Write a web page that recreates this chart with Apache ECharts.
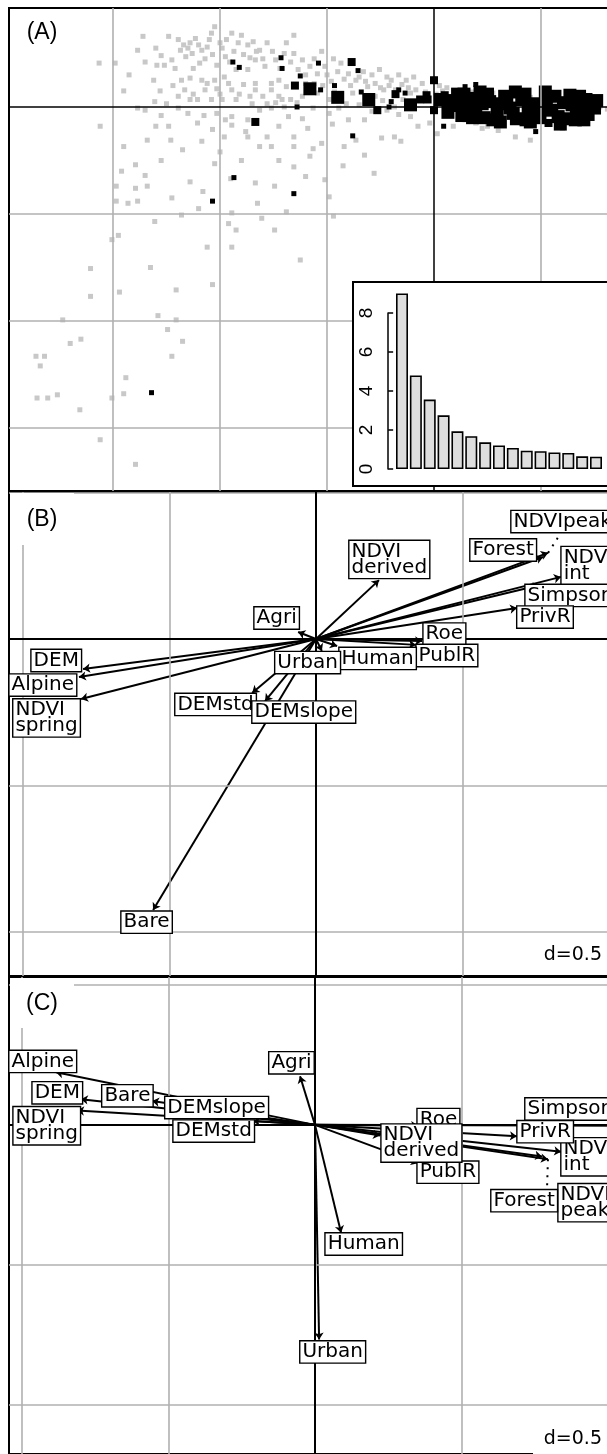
<!DOCTYPE html>
<html><head><meta charset="utf-8">
<script src="https://cdn.jsdelivr.net/npm/echarts@6/dist/echarts.min.js"></script>
<style>
html,body{margin:0;padding:0;background:#fff;overflow:hidden;width:607px;height:1454px;}
body{position:relative;}
.p{position:absolute;left:0;width:700px;}
</style></head><body>
<div id="pa" class="p" style="top:0;height:492px"></div>
<div id="inset" class="p" style="left:352px;top:281px;width:340px;height:206px"></div>
<div id="pb" class="p" style="top:484px;height:500px"></div>
<div id="pc" class="p" style="top:969px;height:485px"></div>
<script>
// ---------- DATA ----------
// Inset: eigenvalues
const eigenvalues = [9.0, 4.8, 3.56, 2.75, 1.93, 1.68, 1.37, 1.21, 1.08, 0.94, 0.91, 0.85, 0.82, 0.65, 0.63];
const eigenTicks = [0, 2, 4, 6, 8];

// Panel A: site scores (grey = all sites)
const sitesAll = [
[-3.13,0.41],[-2.98,0.41],[-2.72,0.66],[-2.77,0.53],[-2.70,0.42],[-2.59,0.39],[-2.52,0.39],[-2.48,0.66],[-2.39,0.63],[-2.34,0.58],
[-2.28,0.60],[-2.23,0.64],[-2.37,0.53],[-2.32,0.47],[-2.25,0.36],[-2.19,0.41],[-2.08,0.69],[-2.05,0.75],[-2.10,0.63],[-2.17,0.53],
[-2.14,0.45],[-2.07,0.49],[-2.03,0.39],[-1.98,0.55],[-1.94,0.63],[-1.89,0.69],[-1.80,0.67],[-1.83,0.60],[-1.74,0.58],[-1.69,0.61],
[-1.63,0.53],[-1.56,0.60],[-1.51,0.52],[-1.67,0.44],[-1.74,0.35],[-1.85,0.35],[-1.96,0.28],[-2.05,0.25],[-2.17,0.25],[-2.28,0.27],
[-2.36,0.25],[-2.14,0.16],[-2.03,0.17],[-1.89,0.16],[-1.78,0.21],[-1.67,0.22],[-1.52,0.16],[-1.45,0.10],[-1.56,0.03],[-1.70,0.03],
[-1.85,0.07],[-1.98,0.07],[-2.08,0.07],[-2.21,0.07],[-2.28,0.07],[-2.39,0.10],[-2.50,0.03],[-2.61,0.05],[-2.77,-0.01],[-2.70,-0.03],
[-2.39,-0.01],[-2.03,-0.06],[-1.89,-0.09],[-1.74,-0.12],[-1.63,-0.03],[-1.52,-0.01],[-1.42,0.07],[-1.36,-0.09],[-1.23,-0.11],[-1.13,-0.01],
[-0.98,-0.06],[-0.89,-0.01],[-1.31,0.67],[-1.38,0.60],[-1.31,0.50],[-1.23,0.44],[-1.16,0.38],[-1.09,0.31],[-1.02,0.38],[-1.05,0.52],
[-0.94,0.45],[-0.87,0.41],[-0.80,0.31],[-0.73,0.25],[-0.66,0.33],[-0.58,0.30],[-0.51,0.35],[-0.44,0.28],[-0.40,0.25],[-0.33,0.30],
[-0.26,0.25],[-0.19,0.28],[-0.11,0.22],[-0.22,0.13],[-0.29,0.07],[-0.37,0.00],[-0.44,-0.03],[-0.33,-0.07],[-0.22,-0.09],[-0.15,-0.18],
[-0.04,-0.15],[0.03,-0.25],[0.18,-0.18],[0.29,-0.12],[0.39,-0.15],[0.50,-0.18],[0.76,-0.28],[0.90,-0.31],[1.55,0.00],[-0.47,0.16],
[-0.62,0.19],[-0.76,0.13],[-0.87,0.07],[-0.98,0.07],[-1.09,0.13],[-1.16,0.16],[-1.23,0.10],[-1.34,0.07],[-1.45,0.25],[-1.38,0.19],
[-1.52,0.22],[-1.67,0.16],[-3.12,-0.18],[-2.48,-0.18],[-2.21,-0.15],[-2.07,-0.21],[-1.89,-0.17],[-1.76,-0.23],[-1.56,-0.28],[-1.52,-0.37],
[-1.63,-0.37],[-1.74,-0.28],[-1.96,-0.28],[-2.17,-0.32],[-2.46,-0.31],[-2.68,-0.31],[-2.90,-0.37],[-2.79,-0.54],[-2.70,-0.64],[-2.92,-0.60],
[-2.97,-0.74],[-2.79,-0.76],[-2.68,-0.74],[-2.28,-0.70],[-2.16,-0.79],[-2.05,-0.53],[-1.90,-0.67],[-1.67,-0.71],[-1.49,-0.74],[-1.31,-0.56],
[-1.16,-0.46],[-1.05,-0.34],[-1.31,-0.28],[-1.31,-0.37],[-1.13,-0.39],[-1.02,-0.68],[-0.98,-0.84],[-0.94,-1.02],[-0.84,-0.37],[-0.73,-0.31],
[-0.56,-0.62],[-0.49,-0.29],[-0.37,-0.28],[-0.31,-0.32],[-2.97,-0.88],[-2.86,-0.90],[-2.77,-0.88],[-2.61,-1.07],[-2.36,-1.01],[-1.92,-1.09],
[-1.85,-1.15],[-1.49,-1.15],[-1.89,-0.99],[-1.89,-1.31],[-3.01,-1.24],[-2.95,-1.20],
[-3.21,-1.51],[-3.21,-1.77],[-2.94,-1.73],[-2.65,-1.50],[-2.58,-1.95],[-2.49,-2.08],[-2.35,-2.19],[-2.41,-1.99],[-3.72,-2.33],[-3.64,-2.33],
[-3.68,-2.42],[-3.40,-2.21],[-3.30,-2.17],[-3.52,-2.69],[-3.61,-2.72],[-3.71,-2.72],[-3.31,-2.83],[-3.01,-2.72],[-2.90,-2.68],[-3.12,-3.11],
[-2.79,-3.34],[-2.45,-2.33],[-2.88,-2.53],[-3.47,-1.99],[-2.12,-1.31],[-1.61,-1.04],[-1.38,-0.98],[-1.25,-1.43],[-2.41,-1.71],[-2.07,-1.66],
[0.20,0.12],[0.35,0.14],[0.55,0.13],[0.70,0.11],[0.90,0.09],[1.10,0.06],[1.30,0.05],[0.60,-0.22],[0.45,-0.20],[1.20,-0.20],
[0.05,0.20],[0.12,0.18],[1.62,-0.02],
[-2.60,0.55],[-2.55,0.48],[-2.45,0.44],[-2.42,0.36],[-2.30,0.55],[-2.26,0.50],[-2.20,0.58],[-2.12,0.56],[-2.00,0.60],[-1.95,0.47],
[-1.91,0.42],[-1.87,0.52],[-1.78,0.49],[-1.72,0.46],[-1.66,0.52],[-1.60,0.45],[-1.58,0.38],[-1.48,0.44],[-1.44,0.36],[-1.40,0.50],
[-1.34,0.42],[-1.27,0.35],[-1.20,0.30],[-1.12,0.45],[-1.00,0.30],[-0.96,0.24],[-0.90,0.33],[-0.84,0.26],[-0.78,0.20],[-0.70,0.28],
[-0.64,0.24],[-0.55,0.22],[-0.50,0.18],[-0.42,0.20],[-0.36,0.16],[-0.30,0.21],[-0.24,0.18],[-0.17,0.16],[-0.08,0.14],[0.02,0.12],
[0.08,0.15],[-2.44,0.20],[-2.33,0.16],[-2.25,0.12],[-2.12,0.22],[-2.00,0.12],[-1.92,0.22],[-1.82,0.12],[-1.72,0.10],[-1.60,0.10],
[-1.48,0.04],[-1.40,0.00],[-1.28,0.04],[-1.20,0.22],[-1.12,0.22],[-1.04,0.20],[-0.93,0.14],[-0.82,0.03],[-0.70,0.02],[-0.58,-0.04],
[-0.55,0.10],[-0.48,0.06],[-1.95,-0.12],[-2.15,-0.08],[-2.30,-0.06],[-2.55,-0.08],[-1.45,-0.18],[-1.18,-0.20],[-0.95,-0.16],[-0.80,-0.12],
[-0.65,-0.12],[-2.62,0.25],[-2.56,0.15],[-2.85,0.30],[-2.90,0.15],[-2.60,-0.18],[-2.35,-0.40],[-2.00,-0.42],[-1.80,-0.50],[-2.55,-0.50],
[-1.45,-0.50],[-0.85,-0.55],[-0.65,-0.45],[-1.20,-0.65],[-2.45,-0.85],[-2.20,-0.95],[-1.65,-0.90]
];
// Panel A: presence sites [x, y, weight class 1..3]
const sitesPresence = [
[-1.88,0.42,1],[-1.82,0.37,1],[-1.43,0.46,1],[-1.42,0.36,1],[-1.25,0.29,1],[-1.30,0.20,2],[-1.16,0.17,3],[-1.08,0.41,1],[-1.06,0.16,1],
[-0.93,0.20,1],[-0.90,0.09,3],[-0.77,0.42,2],[-0.71,0.34,1],[-0.68,0.14,1],[-0.61,0.07,3],[-0.53,-0.03,2],[-0.42,0.00,1],[-0.40,0.05,1],
[-0.36,0.12,2],[-0.33,0.16,1],[-0.27,0.13,1],[-0.22,0.02,3],[-0.13,0.07,2],[-0.07,0.11,2],[0.00,0.25,2],[0.00,-0.03,2],[-1.28,0.00,1],
[-1.67,-0.14,2],[-0.76,-0.27,1],[0.09,-0.18,1],[0.29,0.19,1],[0.39,0.21,1],[0.95,-0.23,1],[1.07,-0.15,2],[-1.87,-0.66,1],[-1.31,-0.81,1],
[-2.07,-0.88,1],[-2.64,-2.67,1],[-0.06,0.07,2],[0.10,0.11,2],[0.17,-0.01,2],
[0.06,0.07,3],[0.13,-0.05,3],[0.21,0.03,3],[0.26,-0.08,3],[0.34,0.08,3],[0.39,-0.03,3],[0.47,-0.10,3],[0.52,0.05,3],[0.59,-0.05,3],
[0.66,0.10,3],[0.71,-0.01,3],[0.77,-0.11,3],[0.82,0.07,3],[0.88,-0.05,3],[0.93,0.03,3],[0.99,-0.10,3],[1.05,0.08,3],[1.10,-0.03,3],
[1.16,-0.09,3],[1.21,0.04,3],[1.27,0.11,3],[1.33,-0.05,3],[1.38,0.03,3],[1.44,-0.07,3],[1.50,-0.01,3],[0.22,0.12,3],[0.62,-0.14,3],
[0.90,-0.14,3],[1.18,-0.16,3],[0.43,0.14,3],[0.76,0.14,3],[1.04,0.14,3],[1.32,-0.12,3],[0.32,0.01,3],[0.64,0.03,3],[0.96,-0.03,3],
[1.29,0.02,3],[1.42,0.07,3],
[0.15,0.06,3],[0.28,0.12,3],[0.45,0.03,3],[0.55,-0.12,3],[0.68,0.04,3],[0.74,-0.06,3],[0.85,0.12,3],[0.86,-0.12,3],[1.01,0.01,3],
[1.13,0.10,3],[1.24,-0.11,3],[1.36,0.10,3],[1.46,0.04,3],[1.52,0.06,3],[1.40,-0.12,3],[0.50,0.12,3],[0.36,-0.10,3]
];
const gridA_x = [-3, -2, -1, 1];
const gridA_y = [-3, -2, -1];

// Panels B and C: variable arrows (grid d = 0.5)
const gridBC = [-1, -0.5, 0.5, 1];
const namesB = ['NDVIpeak','Forest','NDVI\nint','Simpson','PrivR','Roe','PublR','Human','Urban','Agri','DEMstd','DEMslope','NDVI\nderived','DEM','Alpine','NDVI\nspring','Bare'];
const tipsB = [[0.792,0.294],[0.775,0.280],[0.836,0.212],[0.765,0.184],[0.686,0.106],[0.362,-0.007],[0.341,-0.020],[0.072,-0.024],[0.020,-0.041],
[-0.061,0.024],[-0.218,-0.184],[-0.174,-0.212],[0.215,0.201],[-0.795,-0.102],[-0.809,-0.130],[-0.802,-0.205],[-0.556,-0.925]];
const labelsB = [[0.669,0.399],[0.529,0.302],[0.840,0.249],[0.717,0.147],[0.689,0.073],[0.369,0.015],[0.345,-0.058],[0.082,-0.068],[-0.137,-0.082],
[-0.208,0.070],[-0.478,-0.225],[-0.215,-0.251],[0.116,0.270],[-0.969,-0.075],[-1.044,-0.159],[-1.031,-0.271],[-0.662,-0.968]];
const leaderB = [[0.792,0.294],[0.825,0.345]];

const namesC = ['NDVI\npeak','Forest','NDVI\nint','Simpson','PrivR','Roe','PublR','Human','Urban','Agri','DEMstd','DEMslope','NDVI\nderived','DEM','Alpine','NDVI\nspring','Bare'];
const tipsC = [[0.795,-0.123],[0.775,-0.113],[0.840,-0.096],[1.060,-0.003],[0.689,-0.041],[0.352,-0.003],[0.352,-0.137],[0.089,-0.386],[0.014,-0.768],
[-0.051,0.174],[-0.212,0.014],[-0.512,0.068],[0.222,-0.038],[-0.799,0.092],[-0.884,0.188],[-0.812,0.051],[-0.556,0.085]];
const labelsC = [[0.833,-0.280],[0.604,-0.273],[0.843,-0.116],[0.720,0.055],[0.693,-0.026],[0.352,0.017],[0.352,-0.171],[0.038,-0.428],[-0.048,-0.814],
[-0.154,0.220],[-0.481,-0.024],[-0.509,0.060],[0.229,-0.067],[-0.962,0.113],[-1.041,0.225],[-1.027,-0.005],[-0.724,0.102]];
const leaderC = [[0.795,-0.123],[0.792,-0.222]];

// ---------- STYLE ----------
const GREY_LINE = {color:'#b0b0b0', width:1.6, type:'solid'};
const markSize = [0, 5, 8, 13];

function gridLines(xs, ys, blackW){
  const d = [];
  xs.forEach(v => d.push({xAxis:v, lineStyle:GREY_LINE}));
  ys.forEach(v => d.push({yAxis:v, lineStyle:GREY_LINE}));
  d.push({xAxis:0, lineStyle:{color:'#000', width:blackW, type:'solid'}});
  d.push({yAxis:0, lineStyle:{color:'#000', width:blackW, type:'solid'}});
  return {type:'scatter', data:[[0,0]], symbolSize:0, z:1, silent:true,
    markLine:{silent:true, symbol:'none', animation:false, label:{show:false}, data:d}};
}
function frameGrid(top, height){
  return {left:9, top:top, width:640, height:height, show:true, borderColor:'#000', borderWidth:2, backgroundColor:'transparent'};
}
const labelStyle = {show:true, position:[0,0], align:'left', verticalAlign:'middle',
  formatter: p => p.data.name, color:'#000', opacity:1, fontFamily:'DejaVu Sans', fontSize:20, lineHeight:16,
  backgroundColor:'#fff', borderColor:'#000', borderWidth:1.4, padding:[3,2,2,2]};

function arrowPanel(names, tips, labels, leader){
  return [
    {type:'lines', coordinateSystem:'cartesian2d', z:3, silent:true,
     data: tips.map(t => ({coords:[[0,0], t]})),
     symbol:['none','arrow'], symbolSize:7,
     lineStyle:{color:'#000', width:2, opacity:1}},
    {type:'lines', coordinateSystem:'cartesian2d', z:3, silent:true,
     data:[{coords:leader}], symbol:'none',
     lineStyle:{color:'#000', width:2, opacity:1, type:[2,6]}},
    {type:'scatter', z:5, silent:true, symbolSize:1, itemStyle:{color:'rgba(0,0,0,0)'},
     data: labels.map((l,i) => ({value:l, name:names[i]})), label:labelStyle}
  ];
}
function cornerGraphics(tag, tagY, dBoxTop, dBoxH, dTextY){
  return [
    {type:'rect', z:50, silent:true, shape:{x:10, y:9, width:64, height:tagY*2-20}, style:{fill:'#fff'}},
    {type:'text', z:51, x:42, y:tagY, style:{text:tag, font:'23px "Liberation Sans"', fill:'#000', align:'center', verticalAlign:'middle'}},
    {type:'rect', z:50, silent:true, shape:{x:533, y:dBoxTop, width:80, height:dBoxH}, style:{fill:'#fff'}},
    {type:'text', z:51, x:602, y:dTextY, style:{text:'d=0.5', font:'19px "DejaVu Sans"', fill:'#000', align:'right', verticalAlign:'middle'}}
  ];
}

// ---------- PANEL A ----------
const chartA = echarts.init(document.getElementById('pa'));
chartA.setOption({
  animation:false,
  grid: frameGrid(8, 483),
  xAxis:{type:'value', min:-3.972, max:2.009, show:false},
  yAxis:{type:'value', min:-3.589, max:0.925, show:false},
  graphic:[{type:'text', z:51, x:42, y:33, style:{text:'(A)', font:'23px "Liberation Sans"', fill:'#000', align:'center', verticalAlign:'middle'}}],
  series:[
    gridLines(gridA_x, gridA_y, 1.5),
    {type:'scatter', z:2, silent:true, data:sitesAll, symbol:'rect', symbolSize:5, itemStyle:{color:'#c8c8c8', opacity:1}},
    {type:'scatter', z:3, silent:true, data:sitesPresence, symbol:'rect', symbolSize: v => markSize[v[2]], itemStyle:{color:'#000', opacity:1}}
  ]
});

// ---------- INSET ----------
const chartI = echarts.init(document.getElementById('inset'));
chartI.setOption({
  animation:false,
  graphic:[{type:'rect', z:-10, silent:true, shape:{x:1, y:1, width:320, height:204}, style:{fill:'#fff', stroke:'#000', lineWidth:2}}],
  grid:{left:32, top:32, width:300, height:156},
  xAxis:{type:'value', min:-0.299, max:21.35, show:false},
  yAxis:{type:'value', min:eigenTicks[0], max:eigenTicks[eigenTicks.length-1], interval:eigenTicks[1]-eigenTicks[0],
    axisLine:{show:true, lineStyle:{color:'#000', width:1.5}},
    axisTick:{show:true, inside:true, length:5, lineStyle:{color:'#000', width:1.5}},
    axisLabel:{rotate:90, margin:8, fontSize:19, color:'#000', fontFamily:'Liberation Sans'},
    splitLine:{show:false}},
  series:[{type:'bar', silent:true, clip:false, barWidth:12, data:eigenvalues.map((v,i)=>[i+1, v]),
    itemStyle:{color:'#dedede', borderColor:'#000', borderWidth:1.6}}]
});

// ---------- PANEL B ----------
const chartB = echarts.init(document.getElementById('pb'));
chartB.setOption({
  animation:false,
  grid: frameGrid(8, 484),
  xAxis:{type:'value', min:-1.0478, max:1.1365, show:false},
  yAxis:{type:'value', min:-1.150, max:0.5017, show:false},
  graphic: cornerGraphics('(B)', 36, 450, 40, 471),
  series:[gridLines(gridBC, [0.5,-0.5,-1], 2)].concat(arrowPanel(namesB, tipsB, labelsB, leaderB))
});

// ---------- PANEL C ----------
const chartC = echarts.init(document.getElementById('pc'));
chartC.setOption({
  animation:false,
  grid: frameGrid(8, 500),
  xAxis:{type:'value', min:-1.0444, max:1.1399, show:false},
  yAxis:{type:'value', min:-1.1775, max:0.529, show:false},
  graphic: cornerGraphics('(C)', 35, 448, 40, 470),
  series:[gridLines(gridBC, [0.5,-0.5,-1], 2)].concat(arrowPanel(namesC, tipsC, labelsC, leaderC))
});
</script>
</body></html>
